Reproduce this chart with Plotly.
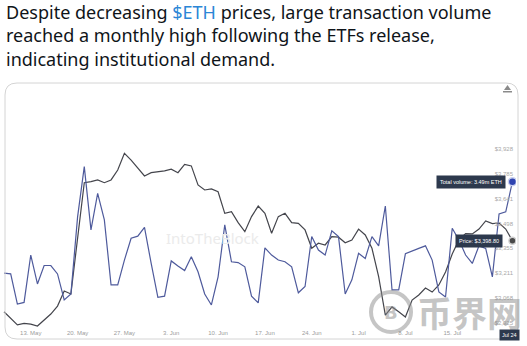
import pandas as pd
import plotly.graph_objects as go

# Daily series, 9 May 2024 .. 24 Jul 2024
dates = pd.date_range("2024-05-09", "2024-07-24", freq="D")

price_usd = [
    2988, 2952, 2912, 2921, 2917, 2906, 2940, 2975, 3021, 3108, 3091,
    3403, 3734, 3740, 3750, 3734, 3750, 3807, 3904, 3865, 3817, 3773,
    3792, 3796, 3802, 3812, 3792, 3840, 3831, 3721, 3692, 3698, 3682,
    3557, 3566, 3503, 3451, 3538, 3599, 3557, 3442, 3538, 3557, 3503,
    3499, 3461, 3355, 3384, 3374, 3422, 3419, 3387, 3403, 3466, 3432,
    3355, 3191, 2969, 3016, 2988, 2958, 3056, 3085, 3125, 3102, 3143,
    3218, 3322, 3403, 3440, 3438, 3466, 3513, 3498, 3501, 3466, 3398.80,
]

volume_m_eth = [
    1.31, 1.29, 0.57, 0.61, 1.74, 1.05, 1.49, 1.49, 1.29, 0.67, 0.81,
    2.65, 3.85, 2.34, 3.21, 2.58, 1.03, 1.03, 1.62, 2.14, 2.19, 2.40,
    1.54, 0.73, 0.76, 1.60, 1.48, 1.37, 1.70, 1.34, 0.81, 0.55, 1.22,
    2.46, 1.58, 1.56, 1.46, 0.76, 0.60, 1.91, 1.74, 1.62, 1.58, 1.46,
    0.84, 0.99, 2.18, 1.86, 1.74, 2.32, 2.18, 0.81, 1.15, 1.78, 1.66,
    2.18, 1.96, 2.91, 0.91, 0.91, 1.77, 1.84, 1.90, 1.96, 1.62, 0.86,
    0.74, 2.38, 2.10, 1.74, 1.54, 1.96, 1.90, 1.22, 2.72, 2.77, 3.49,
]

x_tick_dates = ["2024-05-13", "2024-05-20", "2024-05-27", "2024-06-03",
                "2024-06-10", "2024-06-17", "2024-06-24", "2024-07-01",
                "2024-07-08", "2024-07-15", "2024-07-22"]
price_ticks = [2925, 3068, 3211, 3355, 3498, 3641, 3785, 3928]

PRICE_COLOR = "#44454c"
VOLUME_COLOR = "#4e5a9c"
TIP_BG = "#2d394d"
MARK_GRAY = "rgba(140,140,140,0.5)"

# ---- page geometry (pixels) ----
W, H = 527, 346
PLOT_L, PLOT_R, PLOT_T, PLOT_B = 0, 516, 90, 328
PX_PER_DAY = 6.69
FIRST_X = 4


def fx(px):
    return (px - PLOT_L) / (PLOT_R - PLOT_L)


def fy(py):
    return (PLOT_B - py) / (PLOT_B - PLOT_T)


x_start = dates[0] - pd.Timedelta(days=FIRST_X / PX_PER_DAY)
x_end = dates[0] + pd.Timedelta(days=(PLOT_R - FIRST_X) / PX_PER_DAY)

fig = go.Figure()

fig.add_trace(go.Scatter(
    x=dates, y=volume_m_eth, yaxis="y2", mode="lines",
    line=dict(color=VOLUME_COLOR, width=1.2), name="Total volume",
))
fig.add_trace(go.Scatter(
    x=dates, y=price_usd, mode="lines",
    line=dict(color=PRICE_COLOR, width=1.2), name="Price",
))
# hover dots on the latest day
fig.add_trace(go.Scatter(
    x=[dates[-1]], y=[volume_m_eth[-1]], yaxis="y2", mode="markers",
    marker=dict(size=8, color="#2f44b0", line=dict(color="#c9d0f0", width=1.5)),
))
fig.add_trace(go.Scatter(
    x=[dates[-1]], y=[price_usd[-1]], mode="markers",
    marker=dict(size=7, color="#4a4a4a", line=dict(color="#d0d0d0", width=1.5)),
))

annotations = [
    dict(
        text=("Despite decreasing <span style='color:#2b86d6'>$ETH</span> prices, "
              "large transaction volume<br>reached a monthly high following the "
              "ETFs release,<br>indicating institutional demand."),
        xref="paper", yref="paper", x=fx(4), y=fy(-2), xanchor="left",
        yanchor="top", align="left", showarrow=False,
        font=dict(family="Noto Sans", size=18, color="#0f1419"),
    ),
    dict(
        text="IntoTheBlock", xref="paper", yref="paper", x=fx(212), y=fy(238),
        showarrow=False, font=dict(family="Noto Sans", size=15, color="#ebebeb"),
    ),
    dict(
        text="<b>币界网</b>", xref="paper", yref="paper", x=fx(415), y=fy(311),
        xanchor="left", yanchor="middle", showarrow=False,
        font=dict(family="Noto Sans CJK SC", size=35, color=MARK_GRAY),
    ),
    dict(
        text="<b>B</b>", xref="paper", yref="paper", x=fx(391), y=fy(312),
        xanchor="center", yanchor="middle", showarrow=False,
        font=dict(family="DejaVu Sans", size=18, color=MARK_GRAY),
    ),
    dict(
        text=f"Total volume: {volume_m_eth[-1]:.2f}m ETH", x=dates[-1],
        y=volume_m_eth[-1], xref="x", yref="y2", xanchor="right", xshift=-6,
        showarrow=False, bgcolor=TIP_BG, borderpad=3,
        font=dict(family="Liberation Sans", size=5.5, color="white"),
    ),
    dict(
        text=f"Price: ${price_usd[-1]:,.2f}", x=dates[-1], y=price_usd[-1],
        xref="x", yref="y", xanchor="right", xshift=-9, showarrow=False,
        bgcolor=TIP_BG, borderpad=3,
        font=dict(family="Liberation Sans", size=5.5, color="white"),
    ),
    dict(
        text=dates[-1].strftime("%b %d"), x=dates[-1], y=0, xref="x",
        yref="paper", yanchor="top", xshift=-3, yshift=-1, showarrow=False,
        bgcolor=TIP_BG, borderpad=2,
        font=dict(family="Liberation Sans", size=5.5, color="white"),
    ),
]


# rounded panel outline
def rounded_rect(x0, y0, x1, y1, r):
    pts = [
        ("M", x0 + r, y0), ("L", x1 - r, y0), ("Q", x1, y0, x1, y0 + r),
        ("L", x1, y1 - r), ("Q", x1, y1, x1 - r, y1), ("L", x0 + r, y1),
        ("Q", x0, y1, x0, y1 - r), ("L", x0, y0 + r), ("Q", x0, y0, x0 + r, y0),
    ]
    parts = []
    for p in pts:
        cmd, coords = p[0], p[1:]
        xy = []
        for i in range(0, len(coords), 2):
            xy.append(f"{fx(coords[i]):.5f},{fy(coords[i + 1]):.5f}")
        parts.append(cmd + " " + " ".join(xy))
    return " ".join(parts) + " Z"


shapes = [
    dict(type="path", xref="paper", yref="paper",
         path=rounded_rect(5, 83, 518, 339, 12),
         line=dict(color="#d4d4d4", width=1)),
    # watermark coin ring
    dict(type="circle", xref="paper", yref="paper",
         x0=fx(371), x1=fx(411), y0=fy(332), y1=fy(292),
         line=dict(color=MARK_GRAY, width=4)),
    # small menu icon in the corner
    dict(type="path", xref="paper", yref="paper",
         path=f"M {fx(504):.5f},{fy(90):.5f} L {fx(507.5):.5f},{fy(85):.5f} "
              f"L {fx(511):.5f},{fy(90):.5f} Z",
         fillcolor="#8a8a8a", line=dict(width=0)),
    dict(type="rect", xref="paper", yref="paper",
         x0=fx(503), x1=fx(512), y0=fy(92.5), y1=fy(91),
         fillcolor="#8a8a8a", line=dict(width=0)),
]

fig.update_layout(
    width=W, height=H, autosize=False,
    margin=dict(l=PLOT_L, r=W - PLOT_R, t=PLOT_T, b=H - PLOT_B, pad=0),
    paper_bgcolor="white", plot_bgcolor="white",
    showlegend=False,
    xaxis=dict(
        type="date", range=[x_start, x_end], tickvals=x_tick_dates,
        tickformat="%-d. %b", showgrid=False, zeroline=False, showline=False,
        ticks="", tickfont=dict(family="Liberation Sans", size=6, color="#9c9c9c"),
    ),
    yaxis=dict(
        side="right", range=[2894.2, 4269.8], tickvals=price_ticks,
        ticktext=[f"${v:,}" for v in price_ticks], ticklabelposition="inside",
        showgrid=False, zeroline=False, showline=False, ticks="",
        tickfont=dict(family="Liberation Sans", size=6, color="#a8a8a8"),
    ),
    yaxis2=dict(overlaying="y", range=[0, 5.676], visible=False),
    annotations=annotations,
    shapes=shapes,
)

fig.write_html("out.html")
